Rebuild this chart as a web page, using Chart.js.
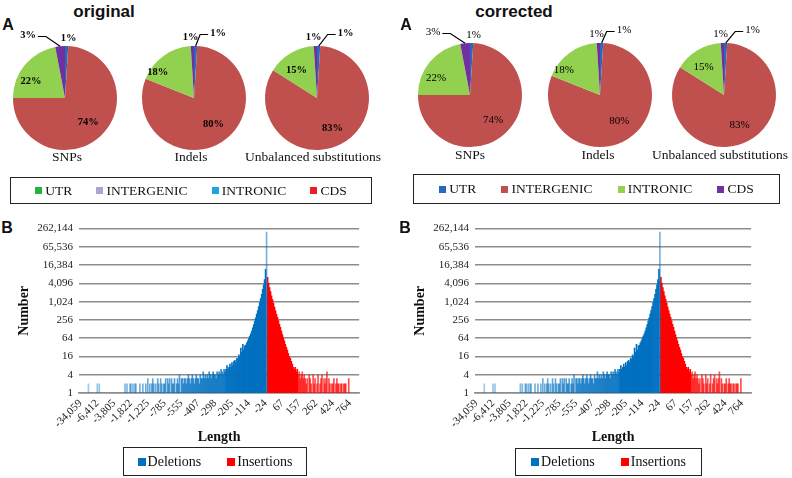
<!DOCTYPE html>
<html lang="en">
<head>
<meta charset="UTF-8">
<title>Variant annotation: original vs corrected</title>
<script src="https://cdn.jsdelivr.net/npm/chart.js"></script>
<style>
  body { margin: 0; width: 792px; height: 478px; position: relative; overflow: hidden; background: #fff;
         font-family: "Liberation Serif", "Times New Roman", serif; color: #111; }
  .abs { position: absolute; }
  .head { font-family: "Liberation Sans", Arial, sans-serif; font-weight: bold; font-size: 17px; line-height: 1;
          transform: translate(-50%, -50%); white-space: nowrap; }
  .tag { font-family: "Liberation Sans", Arial, sans-serif; font-weight: bold; font-size: 16px; line-height: 1;
         transform: translate(-50%, -50%); }
  .cap { font-size: 13.5px; line-height: 1; transform: translate(-50%, -50%); white-space: nowrap; }
  .legend { border: 1.5px solid #222; box-sizing: border-box; display: flex; justify-content: space-evenly;
            align-items: center; font-size: 13.5px; }
  .legend .item { display: flex; align-items: center; white-space: nowrap; }
  .legend i { display: inline-block; width: 7px; height: 7px; margin-right: 3px; }
  .legendB { font-size: 14px; justify-content: center; gap: 26px; }
  .legendB i { width: 8px; height: 8px; margin-right: 2px; }
</style>
</head>
<body>
<script>
// ---- data ----
const regions = ['UTR', 'INTERGENIC', 'INTRONIC', 'CDS'];
const pieTitles = ['SNPs', 'Indels', 'Unbalanced substitutions'];
const snpShares = [1, 74, 22, 3];
const indelShares = [1, 80, 18, 1];
const unbalancedShares = [1, 83, 15, 1];

const sizeClasses = ['Deletions', 'Insertions'];
const lengthTicks = ['-34,059', '-6,412', '-3,805', '-1,822', '-1,225', '-785', '-555', '-407', '-298',
                     '-205', '-114', '-24', '67', '157', '262', '424', '764'];
const numberTicks = [1, 4, 16, 64, 256, 1024, 4096, 16384, 65536, 262144];

// number of variants per length bin, longest deletions first
const deletionCounts = [
  0, 0, 0, 0, 0, 0, 0, 0, 0, 2,
  0, 0, 0, 0, 0, 0, 0, 0, 2, 0,
  2, 0, 0, 0, 0, 0, 0, 0, 0, 0,
  0, 0, 0, 0, 0, 0, 0, 0, 0, 0,
  0, 0, 0, 0, 0, 0,
  2, 0, 2, 0, 0, 2, 2, 0, 2, 0,
  2, 2, 0, 0, 0, 2, 0, 0, 2, 0,
  0, 2, 0, 3, 0, 2, 0, 2, 3, 2,
  0, 2, 0, 3, 2, 0, 3, 2, 0, 2,
  2, 3, 0, 3, 2, 3, 0, 3, 2, 2,
  3, 0, 2, 3, 2, 4, 0, 3, 3, 2,
  3, 3, 2, 3, 4, 3, 2, 3, 4, 3,
  2, 3, 4, 3, 3, 2, 4, 3, 3, 5,
  3, 4, 3, 4, 3, 5, 4, 3, 4, 5,
  4,
  4, 3, 5, 4, 5, 4, 6, 5, 4, 6,
  5, 6, 8, 6, 7, 9, 7, 10, 8, 11,
  12, 10, 14, 13, 18, 16,
  30, 22, 40, 26, 36, 38, 45, 52, 62, 75,
  90, 110, 140, 180, 230, 300, 400, 520, 700, 950,
  1300, 1800, 2600, 3700, 5500, 12000, 200000
];
const insertionCounts = [
  6500, 4200, 3000, 2200, 1600, 1200, 900, 680, 520, 400,
  310, 240, 185, 145, 110, 85, 66, 52, 40, 32,
  26, 20, 16, 14, 11, 9, 7, 6, 7, 5,
  6, 4, 5, 3, 4, 5, 3, 4, 3, 2,
  3, 0, 4, 3, 2, 0, 4, 2, 3, 0,
  2, 4, 0, 2, 3, 4, 0, 3, 2, 3,
  5, 0, 3, 2, 0, 2, 2, 3, 0, 2,
  3, 2, 2, 0, 2, 2, 0, 2, 2, 2,
  0, 0, 3,
  0, 0, 0, 0, 0, 0, 0, 0, 0, 0
];

// ---- styles ----
const sliceColors = ['#2a68bf', '#c0504d', '#92d050', '#7030a0'];
const originalLegendColors = ['#22b43c', '#a7a7d1', '#1ea4df', '#ee1c24'];
const histRgb = ['0,112,192', '255,0,0'];

// where each percentage label sits (inside: angle shift + radius factor, outside: offset from centre)
const labelPlacement = [
  [{ dx: 3.5, dy: -60 }, { da: 0, rf: 0.65 }, { da: -13, rf: 0.73 }, { dx: -37, dy: -63, leader: true }],
  [{ dx: 24, dy: -65, leader: true }, { da: -4, rf: 0.63 }, { da: -19, rf: 0.85 }, { dx: -3.5, dy: -61 }],
  [{ dx: 28.5, dy: -65, leader: true }, { da: 0, rf: 0.66 }, { da: -6, rf: 0.66 }, { dx: -3.5, dy: -61 }]
];

const panels = [
  { head: 'original', headX: 104, headY: 10.6, tagX: 8, pieXs: [65, 193.5, 317], pieY: 97.5,
    capXs: [67, 191, 313], capY: 156.5, legend: { x: 10, y: 177, w: 362, h: 27 },
    legendColors: originalLegendColors, bold: true,
    histX: 0, histW: 372, legendB: { x: 123, y: 447, w: 184, h: 29 } },
  { head: 'corrected', headX: 514, headY: 10.6, tagX: 406, pieXs: [470, 599.5, 723.5], pieY: 95,
    capXs: [470, 598, 720], capY: 154.5, legend: { x: 413, y: 174, w: 367, h: 30 },
    legendColors: sliceColors, bold: false,
    histX: 396, histW: 368, legendB: { x: 515, y: 448, w: 187, h: 28 } }
];

Chart.defaults.font.family = '"Liberation Serif", "Times New Roman", serif';

function addText(cls, text, x, y) {
  const d = document.createElement('div');
  d.className = 'abs ' + cls;
  d.textContent = text;
  d.style.left = x + 'px';
  d.style.top = y + 'px';
  document.body.appendChild(d);
  return d;
}

function addLegend(box, names, colors, extra) {
  const d = document.createElement('div');
  d.className = 'abs legend' + (extra ? ' ' + extra : '');
  Object.assign(d.style, { left: box.x + 'px', top: box.y + 'px', width: box.w + 'px', height: box.h + 'px' });
  names.forEach((n, i) => {
    const it = document.createElement('span');
    it.className = 'item';
    const sw = document.createElement('i');
    sw.style.background = colors[i];
    it.appendChild(sw);
    it.appendChild(document.createTextNode(n));
    d.appendChild(it);
  });
  document.body.appendChild(d);
}

const pieLabels = {
  id: 'pieLabels',
  afterDatasetsDraw(chart, args, opts) {
    const ctx = chart.ctx;
    const values = chart.data.datasets[0].data;
    ctx.save();
    ctx.font = opts.bold ? 'bold 10.5px "Liberation Serif"' : '11px "Liberation Serif"';
    ctx.fillStyle = '#000';
    ctx.strokeStyle = '#000';
    ctx.lineWidth = 1.2;
    ctx.textAlign = 'center';
    ctx.textBaseline = 'middle';
    chart.getDatasetMeta(0).data.forEach((arc, i) => {
      const p = arc.getProps(['x', 'y', 'startAngle', 'endAngle', 'outerRadius'], true);
      const mid = (p.startAngle + p.endAngle) / 2;
      const place = opts.placement[i];
      const txt = values[i] + '%';
      if (place.rf !== undefined) {
        const a = mid + place.da * Math.PI / 180;
        const r = p.outerRadius * place.rf;
        ctx.fillText(txt, p.x + Math.cos(a) * r, p.y + Math.sin(a) * r);
        return;
      }
      const lx = p.x + place.dx, ly = p.y + place.dy;
      ctx.fillText(txt, lx, ly);
      if (place.leader) {
        const w = ctx.measureText(txt).width;
        const side = place.dx < 0 ? 1 : -1;
        const sx = lx + side * (w / 2 + 2);
        const kx = sx + side * 8;
        ctx.beginPath();
        ctx.moveTo(sx, ly + 1.5);
        ctx.lineTo(kx, ly + 1.5);
        ctx.lineTo(p.x + Math.cos(mid) * p.outerRadius, p.y + Math.sin(mid) * p.outerRadius);
        ctx.stroke();
      }
    });
    ctx.restore();
  }
};

function makePie(cx, cy, shares, placement, bold) {
  const cv = document.createElement('canvas');
  cv.width = 130; cv.height = 150;
  cv.className = 'abs';
  cv.style.left = (cx - 65) + 'px';
  cv.style.top = (cy - 75) + 'px';
  document.body.appendChild(cv);
  new Chart(cv, {
    type: 'pie',
    data: { labels: regions, datasets: [{ data: shares, backgroundColor: sliceColors, borderWidth: 0, radius: 52 }] },
    options: {
      responsive: false, animation: false,
      layout: { padding: 0 },
      plugins: { legend: { display: false }, tooltip: { enabled: false }, pieLabels: { placement, bold } }
    },
    plugins: [pieLabels]
  });
}

// x categories: one per length bin, a label every 17 bins
const binCount = deletionCounts.length + insertionCounts.length;
const tickEvery = 17;
const binLabels = Array.from({ length: binCount }, (_, i) =>
  (i - 1) % tickEvery === 0 && lengthTicks[(i - 1) / tickEvery] !== undefined ? lengthTicks[(i - 1) / tickEvery] : '');
const deletionData = deletionCounts.map(v => v || null).concat(insertionCounts.map(() => null));
const insertionData = deletionCounts.map(() => null).concat(insertionCounts.map(v => v || null));
const solidFrom = 148;
const peakBin = deletionCounts.length - 1;

function deletionColor(c) {
  const i = c.dataIndex;
  let a = i >= solidFrom ? 1 : 0.35 + 0.5 * i / solidFrom;
  if (i === peakBin) a = 0.55; // the lone spike prints faint
  return `rgba(${histRgb[0]},${a})`;
}

function makeHist(left, width) {
  const cv = document.createElement('canvas');
  cv.width = width; cv.height = 231;
  cv.className = 'abs';
  cv.style.left = left + 'px';
  cv.style.top = '216px';
  document.body.appendChild(cv);
  new Chart(cv, {
    type: 'bar',
    data: {
      labels: binLabels,
      datasets: [
        { label: sizeClasses[0], data: deletionData, grouped: false, barPercentage: 1, categoryPercentage: 1,
          backgroundColor: deletionColor },
        { label: sizeClasses[1], data: insertionData, grouped: false, barPercentage: 1, categoryPercentage: 1,
          backgroundColor: c => `rgba(${histRgb[1]},${c.dataIndex >= deletionCounts.length + 31 ? 0.7 : 1})` }
      ]
    },
    options: {
      responsive: false, animation: false,
      layout: { padding: { top: 10, right: 10, left: 0, bottom: 0 } },
      plugins: { legend: { display: false }, tooltip: { enabled: false } },
      scales: {
        x: {
          grid: { display: false, drawTicks: false },
          border: { color: '#8c8c8c', width: 1.5 },
          ticks: { autoSkip: false, minRotation: 45, maxRotation: 45, padding: 4, color: '#222', font: { size: 11 } },
          title: { display: true, text: 'Length', color: '#111', font: { size: 14, weight: 'bold' }, padding: { top: 0, bottom: 1 } },
          afterFit: s => { s.height = 54; }
        },
        y: {
          type: 'logarithmic', min: 1, max: 262144,
          grid: { color: '#8c8c8c', lineWidth: 1.5, drawTicks: false },
          border: { display: false },
          afterBuildTicks: s => { s.ticks = numberTicks.map(v => ({ value: v })); },
          ticks: { padding: 6, color: '#222', font: { size: 11 }, callback: v => Number(v).toLocaleString('en-US') },
          title: { display: true, text: 'Number', color: '#111', font: { size: 14, weight: 'bold' }, padding: { top: 15.6, bottom: 0 } },
          afterFit: s => { s.width = 79; }
        }
      }
    }
  });
}

const shareSets = [snpShares, indelShares, unbalancedShares];
panels.forEach(p => {
  addText('head', p.head, p.headX, p.headY);
  addText('tag', 'A', p.tagX, 25);
  addText('tag', 'B', p.tagX - 1, 228);
  shareSets.forEach((s, k) => {
    makePie(p.pieXs[k], p.pieY, s, labelPlacement[k], p.bold);
    addText('cap', pieTitles[k], p.capXs[k], p.capY);
  });
  addLegend(p.legend, regions, p.legendColors);
  makeHist(p.histX, p.histW);
  addLegend(p.legendB, sizeClasses, histRgb.map(c => `rgb(${c})`), 'legendB');
});
</script>
</body>
</html>
